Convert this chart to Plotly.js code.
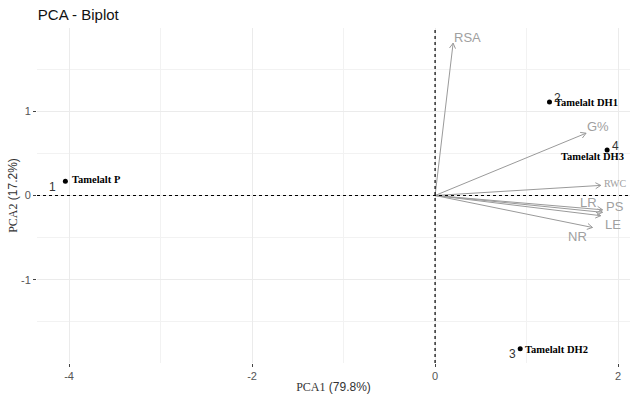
<!DOCTYPE html>
<html>
<head>
<meta charset="utf-8">
<script src="https://cdn.plot.ly/plotly-3.0.1.min.js"></script>
<style>html,body{margin:0;padding:0;background:#fff;}</style>
</head>
<body>
<div id="chart" style="width:631px;height:394px;"></div>
<script>
// ---- data ----
var obsNames = ["Tamelalt P", "Tamelalt DH1", "Tamelalt DH2", "Tamelalt DH3"];
var obsIds = ["1", "2", "3", "4"];
var obsPC1 = [-4.04, 1.25, 0.93, 1.88];
var obsPC2 = [0.17, 1.11, -1.82, 0.54];

var varNames = ["RSA", "G%", "RWC", "LR", "PS", "LE", "NR"];
var varPC1 = [0.197, 1.65, 1.81, 1.83, 1.83, 1.81, 1.72];
var varPC2 = [1.81, 0.74, 0.12, -0.17, -0.20, -0.24, -0.38];

var xTickVals = [-4, -2, 0, 2];
var xTickText = ["-4", "-2", "0", "2"];
var yTickVals = [-1, 0, 1];
var yTickText = ["-1", "0", "1"];

var xTitle = "PCA1 (79.8%)";
var yTitle = "PCA2 (17.2%)";

// ---- layout constants ----
var W = 631, H = 394;
var M = {l: 37, r: 1, t: 28, b: 31};
var xr = [-4.35, 2.13], yr = [-1.99, 1.99];
var kx = (W - M.l - M.r) / (xr[1] - xr[0]);
var ky = (H - M.t - M.b) / (yr[1] - yr[0]);

var arrowColor = "#9a9a9a";
var serif = "Liberation Serif, Times New Roman, serif";
var sans = "Liberation Sans, Arial, sans-serif";

// label pixel offsets (styling)
var obsNameStyle = [
  {xa: "left", dx: 5, dy: 2},
  {xa: "left", dx: 4, dy: 0},
  {xa: "left", dx: 3, dy: -1},
  {xa: "center", dx: -15, dy: -6}
];
var obsIdShift = [[-13, -6], [8, 4], [-8, -5], [8, 4]];
var varLabelStyle = {
  "RSA": {dx: 14, dy: 6, f: sans, s: 13},
  "G%": {dx: 12, dy: 7, f: sans, s: 13},
  "RWC": {dx: 15, dy: 2, f: serif, s: 10},
  "LR": {dx: -14, dy: 7, f: sans, s: 13},
  "PS": {dx: 12, dy: 6, f: sans, s: 13},
  "LE": {dx: 12, dy: -9, f: sans, s: 13},
  "NR": {dx: -15, dy: -9, f: sans, s: 13}
};

var traces = [];
// arrows: shaft + open head
var hx = [], hy = [];
for (var i = 0; i < varNames.length; i++) {
  var tx = varPC1[i], ty = varPC2[i];
  hx.push(0, tx, null);
  hy.push(0, ty, null);
  var px = tx * kx, py = ty * ky;
  var ang = Math.atan2(py, px);
  var L = 6, a = Math.PI / 6;
  [ang + Math.PI - a, ang + Math.PI + a].forEach(function (b) {
    hx.push(tx, tx + L * Math.cos(b) / kx, null);
    hy.push(ty, ty + L * Math.sin(b) / ky, null);
  });
}
traces.push({
  type: "scatter", mode: "lines", x: hx, y: hy,
  line: {color: arrowColor, width: 1}, hoverinfo: "skip", showlegend: false
});
traces.push({
  type: "scatter", mode: "markers", x: obsPC1, y: obsPC2,
  marker: {color: "#000", size: 5}, showlegend: false, hoverinfo: "skip"
});

var ann = [];
for (var j = 0; j < obsNames.length; j++) {
  var st = obsNameStyle[j];
  ann.push({
    x: obsPC1[j], y: obsPC2[j], xref: "x", yref: "y", text: obsNames[j],
    showarrow: false, xanchor: st.xa, yanchor: "middle", xshift: st.dx, yshift: st.dy,
    font: {family: serif, size: 10.5, color: "#000", weight: "bold"}
  });
  ann.push({
    x: obsPC1[j], y: obsPC2[j], xref: "x", yref: "y", text: obsIds[j],
    showarrow: false, xanchor: "center", yanchor: "middle",
    xshift: obsIdShift[j][0], yshift: obsIdShift[j][1],
    font: {family: sans, size: 12, color: "#333"}
  });
}
for (var k = 0; k < varNames.length; k++) {
  var vs = varLabelStyle[varNames[k]];
  ann.push({
    x: varPC1[k], y: varPC2[k], xref: "x", yref: "y", text: varNames[k],
    showarrow: false, xanchor: "center", yanchor: "middle", xshift: vs.dx, yshift: vs.dy,
    font: {family: vs.f, size: vs.s, color: "#a0a0a0"}
  });
}

function mixTitle(t) {
  var p = t.indexOf(" ");
  return '<span style="font-family:' + serif + '">' + t.slice(0, p) + '</span>' +
         '<span style="font-family:' + sans + '">' + t.slice(p) + '</span>';
}

var layout = {
  width: W, height: H,
  margin: M,
  paper_bgcolor: "#fff", plot_bgcolor: "#fff",
  title: {text: "PCA - Biplot", x: 0.06, xanchor: "left", y: 0.962, yanchor: "middle",
          font: {family: sans, size: 15, color: "#111"}},
  font: {family: sans},
  xaxis: {
    range: xr, tickmode: "array", tickvals: xTickVals, ticktext: xTickText,
    showgrid: true, gridcolor: "#ebebeb", gridwidth: 1,
    minor: {dtick: 1, tick0: 0, showgrid: true, gridcolor: "#f2f2f2", gridwidth: 1},
    zeroline: false, showline: false, ticks: "outside", ticklen: 3, tickcolor: "#444",
    tickfont: {family: sans, size: 11, color: "#555"},
    title: {text: mixTitle(xTitle), standoff: 6, font: {family: sans, size: 12, color: "#333"}}
  },
  yaxis: {
    range: yr, tickmode: "array", tickvals: yTickVals, ticktext: yTickText,
    showgrid: true, gridcolor: "#ebebeb", gridwidth: 1,
    minor: {dtick: 0.5, tick0: 0, showgrid: true, gridcolor: "#f2f2f2", gridwidth: 1},
    zeroline: false, showline: false, ticks: "outside", ticklen: 3, tickcolor: "#444",
    tickfont: {family: sans, size: 11, color: "#555"},
    title: {text: mixTitle(yTitle), standoff: 0, font: {family: sans, size: 12, color: "#333"}}
  },
  shapes: [
    {type: "line", xref: "x", yref: "paper", x0: 0, x1: 0, y0: 0, y1: 1,
     line: {color: "#000", width: 1.2, dash: "3px,3px"}},
    {type: "line", xref: "paper", yref: "y", x0: 0, x1: 1, y0: 0, y1: 0,
     line: {color: "#000", width: 1.2, dash: "3px,3px"}}
  ],
  annotations: ann
};

Plotly.newPlot("chart", traces, layout, {displayModeBar: false, staticPlot: true});
</script>
</body>
</html>
